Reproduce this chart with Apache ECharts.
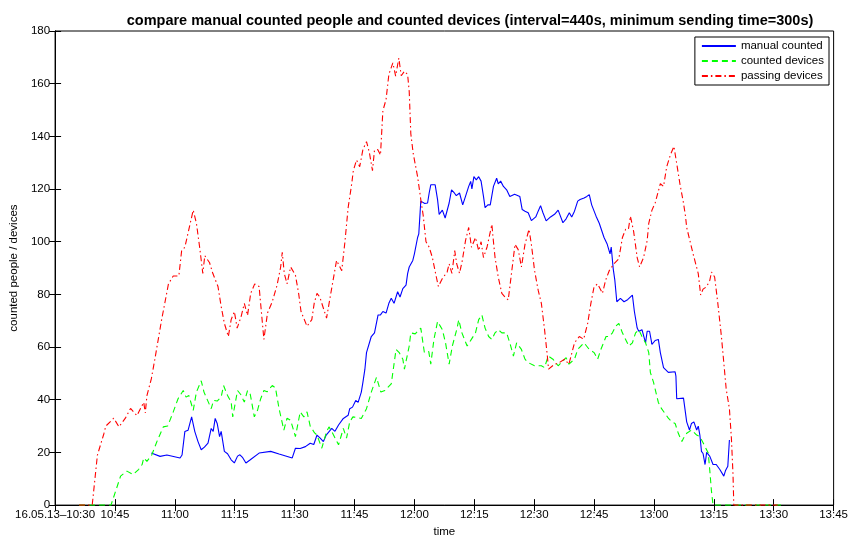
<!DOCTYPE html>
<html><head><meta charset="utf-8">
<script src="https://cdn.jsdelivr.net/npm/echarts@6/dist/echarts.min.js"></script>
<style>html,body{margin:0;padding:0;background:#fff}#c{width:851px;height:543px}</style>
</head><body><div id="c"></div>
<script>
// minutes after 10:30 on 16.05.13
const xTickLabels = ["16.05.13\u201310:30","10:45","11:00","11:15","11:30","11:45","12:00","12:15","12:30","12:45","13:00","13:15","13:30","13:45"];
const yTicks = [0,20,40,60,80,100,120,140,160,180];
const seriesNames = ["manual counted","counted devices","passing devices"];

const manualT = [24.1,26.3,28,31.3,31.8,32.5,33.3,34.2,35,35.8,36.6,37.4,38.3,39.1,39.6,40.1,40.6,41.2,41.6,42.4,43.2,44.1,44.9,45.7,46.3,47,47.8,48.9,51.1,54,56.1,59.4,60.2,61.4,62.7,63.9,64.8,65.6,66.4,67.2,67.9,69.3,70.1,71,72.2,73.4,73.8,74.5,75.3,75.9,76.7,77.1,77.6,78,79.2,80,80.4,80.9,81.5,82.1,82.9,83.6,84.2,84.9,85.8,86.4,87.1,87.9,88.3,88.7,89.6,90,90.8,91.1,91.6,91.9,92.6,93.3,93.7,94.1,95.2,95.8,96.2,97,97.7,98.7,99.3,100,100.5,101.3,102.1,102.8,103.6,104.1,104.4,104.9,105.5,106.1,106.7,107.3,107.7,108.4,109,109.8,110.6,111,111.6,112.3,113.1,113.9,115.1,116.4,117,117.7,118.5,119.3,120.4,121,121.6,122.2,123,124.1,125.1,126,127.2,128,128.8,129.4,130.1,130.9,131.5,132.5,133.2,133.8,134.4,135.5,136.3,136.7,137.5,138.3,139,139.3,139.8,140.2,140.7,141.6,142.5,143.4,144.6,145.1,145.8,146.2,147,147.9,148.3,148.9,149.5,150.3,151.1,151.6,152.4,153.6,155.3,155.5,155.7,157.4,158.2,158.9,159.4,160,160.7,161.1,161.5,161.9,162.3,162.8,163.2,164,164.8,165.6,166.5,167.5,167.9,168.5,168.9];
const manualV = [19.75,18.5,19,17.9,19,27.9,28.4,33.5,27.9,24.1,21,22,23.5,29.1,28,32.9,31,26,28,20.4,19.5,17.2,16,18.6,19.1,18,16,17.2,19.75,20.4,19.4,17.9,21.6,21.5,22.2,23.5,23,26.6,25.4,24.1,26.6,29.1,28,30.4,32.9,34.1,36.6,37.2,39.75,39,42.9,46.6,51.6,57.9,64,65.4,66,72.2,72.2,73.5,72.9,76.6,78.5,76.6,81,79,82.2,83.5,87.9,90.4,92.9,95.4,101.6,103,115.4,116,114.5,114.7,118.5,121.6,121.6,116,110.4,112,109,114.7,119.7,118.5,117.5,118.5,114,117.2,121,122.9,120,124.7,123.5,124.7,123,117.2,112.9,114,114,121,124.1,122,123,121,119.7,117.2,118,117.2,112.2,111.6,111,108,109.4,111.6,113.7,111,107.9,109.4,110.4,112,107.2,108.7,111,109.4,111.6,115.4,116,116.6,117.2,117.9,114,109.7,107,106.6,101.6,99,95.4,98,89.7,85.4,77.2,78.5,77.2,78,79.75,73.5,67.2,66,66.6,61.6,66,66,61,62.5,62.9,57.9,52.2,50.4,50.6,49,40.4,40.6,31.6,28.5,31,31.6,28.5,30,26.6,20.4,19.6,15.4,20,18.5,15.4,15.4,13.5,11,13,14.75,24.75];

const devicesT = [6,14,15.1,16.4,18,19.5,20.9,21.8,22.2,23,24.2,25.5,27.1,28.2,29.6,30.8,32.1,32.8,33.5,34.6,35.4,36.6,37.3,39.1,39.7,40.6,41.6,42.2,43.2,44.1,44.5,45.7,46.5,47.4,48.2,48.9,49.9,50.7,51.5,52.3,53.1,54.4,55.2,56.1,57.3,58.1,59,60.2,61.4,62.3,63.1,63.9,64.3,65,65.6,66.8,68,68.6,69.3,71,72.2,73,73.8,74.6,76.7,78,79.2,80.5,81.6,82.6,84.2,85.4,86.2,87.1,87.5,88.7,89.1,90.2,91.6,92.5,93.6,94.1,94.9,95.8,97,97.8,98.7,99.5,100.7,101.1,101.9,103.2,104.3,105.3,106.1,106.9,107.7,108.6,109.4,110.2,111,111.9,113.1,113.9,114.8,115.6,116.8,117.7,118.5,120.1,121.8,122.6,123.5,124.7,126,127.2,128,128.7,130.1,130.9,131.7,132.5,133.8,135,135.9,136.7,138,138.8,139.6,140.4,141.2,142.1,142.9,143.7,144.6,145.4,146.2,147,147.9,148.7,149.1,149.9,150.3,151.1,151.9,152.8,153.6,154.5,155.3,156.1,157,157.4,158.2,159.4,160.7,161.5,162.8,163.6,164,164.4,164.8,182];
const devicesV = [0,0,5,11,12.9,11.6,13.5,15.4,17.9,16.6,19,24.1,29.7,30,35.4,40.4,43.5,41,41.6,36,42.9,47.2,42.9,36.6,39.75,39.5,41,45.4,41.6,39.1,33.5,43.5,42,39.1,43.5,42,33.5,36,40.4,43.5,43,45.4,44.5,36.6,28.5,33,32.2,26,35.4,33.5,35.4,30,29.1,27.4,26.6,21.6,27.9,29.7,27.9,22.9,29.1,25.4,31.6,33.5,32.9,36.6,42.9,48.5,42.9,43.5,46,59.1,57.9,55.4,51.6,60.4,65.4,65,67.2,57.9,58.3,53.5,63,69.7,66.6,61.6,53.5,60.4,67.2,70.4,65.4,60.4,63,65.4,70.4,72.2,67.2,64,62.9,65.4,66.6,65.4,65.4,61.6,56.6,61.6,59.1,55.4,54.1,52.9,52.9,52.2,56.6,55.4,52.9,54.7,56,53.5,55.4,59.1,60.4,61.6,59.1,57.9,55.4,59.1,64,64,65.4,67.9,69,65.4,62.9,60.4,61.6,65.4,66.6,64,61.6,57.9,50.4,46.6,44,39,36.6,34.75,33,31.6,31,27.25,24.1,25.4,27.25,28.5,26.6,26,22.2,19.75,12.9,5.4,0,0];

const passingT = [6,9.3,10.6,12.2,12.7,14.7,16,17.6,18.9,20.5,22.2,22.6,23,24.1,25,26.7,28.4,29.6,31,31.7,32.5,34.6,35.4,36.2,37,37.5,38.7,39.5,40.8,41.6,42.4,43.4,44.1,44.9,45.6,46.6,47.4,48.2,49,50,51.1,51.7,52.3,53.2,54.4,55.6,56.5,56.9,57.4,58.1,59,60.2,61,61.6,62,63.1,64.3,64.9,65.6,66.3,68,68.9,70.5,71.8,72.6,73.4,74.3,74.7,75.5,76.3,77.1,78,78.7,79.5,80,80.8,81.5,82.1,82.9,83.6,84.6,85.3,86.1,86.7,87.5,88.3,88.7,89.1,89.7,90.8,91.6,92.2,92.9,93.7,94.5,95.3,96,97,98.2,98.7,99.4,100.1,100.6,101.3,102,102.8,103.6,104.3,105.3,106.1,106.7,107.3,108.2,109.4,109.8,110.2,111,111.9,112.7,113.5,114.4,115.2,116,116.8,117.7,118.7,119.3,120.1,121,121.8,122.6,123.3,123.6,125.1,126.2,127.6,128.7,130.1,131.3,132.4,133.4,134.2,135,135.9,137.1,137.9,138.8,140,141.2,142.1,142.9,143.6,144.1,144.9,145.8,146.4,147.4,148.3,148.7,149.5,150.3,151.6,152.4,153.2,154.1,155,155.7,156.5,157.4,157.9,158.2,159.8,161.1,161.7,162.3,163.2,164,164.4,165.2,166,166.9,167.5,168.1,168.9,169.4,169.8,170,181];
const passingV = [0,0,19,27,30,33,29.7,33,36.7,34,39,35,41.6,47.9,55.5,70.5,84,87,87,96.6,97.9,112,107,98,88,94.7,92,88,83,75.4,69,64,70.4,73.5,67.2,71.6,76.6,72,80.4,84,83,72.9,62.9,72.9,77.2,83.5,90.4,96,88,84,90.4,87.3,80.4,73.5,72,67.9,70.4,76.6,80.4,79,71,79,92.9,89,100,112.9,122,127,131,128.5,135,138,134,127,134.7,135,132.9,149.7,154,163.5,167.9,162.9,169.7,163,164.7,163.5,157,141,133.5,124.7,116,110,100,97.9,94,88,83,86,88.5,91.6,88,96.6,91.6,88,92.9,100.4,105.4,97.9,101.6,96.6,100,94,98,106.6,100,94,86.6,80.4,79,77.9,89,99,97,90.4,99,104.7,99,89,81.6,76.6,66.6,56.6,51.6,53.5,54,55.4,53.5,61.6,64,63,69,76.6,82.9,84,80.4,85.4,89,91.6,93.5,101.6,104.7,104.7,109.7,104,94,90.4,94,100.4,107,112,114.7,122,121,128.5,132.9,136.2,129.7,122,114.7,109.7,105.4,95.4,87.9,79.8,82,82.9,85.4,88.5,86.6,76.6,64,54,44,36.6,25.4,11.6,0,0];

const zip = (t, v) => t.map((x, i) => [x, v[i]]);
const font = '"Liberation Sans", Arial, Helvetica, sans-serif';

const chart = echarts.init(document.getElementById('c'), null, {renderer: 'canvas'});
const tickCommon = {show: true, inside: true, length: 6, lineStyle: {color: '#000', width: 1}};
chart.setOption({
  animation: false,
  backgroundColor: '#fff',
  title: {
    text: 'compare manual counted people and counted devices (interval=440s, minimum sending time=300s)',
    left: 465, top: 8, textAlign: 'center',
    textStyle: {fontFamily: font, fontSize: 14.5, fontWeight: 'bold', color: '#000'}
  },
  grid: {left: 49, right: 16, top: 31, bottom: 32, show: true, borderColor: '#000', borderWidth: 1, backgroundColor: '#fff'},
  legend: {
    show: true, orient: 'vertical', right: 22, top: 37, z: 10,
    data: seriesNames,
    itemWidth: 34, itemHeight: 10, itemGap: 3,
    itemStyle: {color: 'rgba(0,0,0,0)', borderWidth: 0, opacity: 0},
    backgroundColor: '#fff', borderColor: '#000', borderWidth: 1, padding: [3, 5, 3, 6],
    textStyle: {fontFamily: font, fontSize: 11.5, color: '#000'}
  },
  xAxis: [{
    type: 'value', min: 0, max: 195, interval: 15,
    name: 'time', nameLocation: 'middle', nameGap: 19,
    nameTextStyle: {fontFamily: font, fontSize: 11.5, color: '#000'},
    axisLine: {show: true, lineStyle: {color: '#000', width: 1}},
    axisTick: tickCommon,
    axisLabel: {margin: 4, fontFamily: font, fontSize: 11.5, color: '#000',
      formatter: (v) => xTickLabels[Math.round(v / 15)] || ''},
    splitLine: {show: false}
  }, {
    type: 'value', min: 0, max: 195, interval: 15, position: 'top',
    axisLine: {show: true, lineStyle: {color: '#000'}},
    axisTick: tickCommon, axisLabel: {show: false}, splitLine: {show: false}
  }],
  yAxis: [{
    type: 'value', min: 0, max: 180, interval: 20,
    name: 'counted people / devices', nameLocation: 'middle', nameGap: 30, nameRotate: 90,
    nameTextStyle: {fontFamily: font, fontSize: 11.5, color: '#000'},
    axisLine: {show: true, lineStyle: {color: '#000', width: 1}},
    axisTick: tickCommon,
    axisLabel: {margin: 5, fontFamily: font, fontSize: 11.5, color: '#000',
      formatter: (v) => yTicks.includes(v) ? String(v) : ''},
    splitLine: {show: false}
  }, {
    type: 'value', min: 0, max: 180, interval: 20, position: 'right',
    axisLine: {show: true, lineStyle: {color: '#000'}},
    axisTick: tickCommon, axisLabel: {show: false}, splitLine: {show: false}
  }],
  series: [{
    name: seriesNames[0], type: 'line', data: zip(manualT, manualV),
    showSymbol: false, symbol: 'none', color: '#0000ff',
    lineStyle: {color: '#0000ff', width: 1.1, type: 'solid'}
  }, {
    name: seriesNames[1], type: 'line', data: zip(devicesT, devicesV),
    showSymbol: false, symbol: 'none', color: '#00ff00',
    lineStyle: {color: '#00ff00', width: 1.1, type: [6, 4]}
  }, {
    name: seriesNames[2], type: 'line', data: zip(passingT, passingV),
    showSymbol: false, symbol: 'none', color: '#ff0000',
    lineStyle: {color: '#ff0000', width: 1.1, type: [6, 3, 1.5, 3]}
  }]
});
</script></body></html>
